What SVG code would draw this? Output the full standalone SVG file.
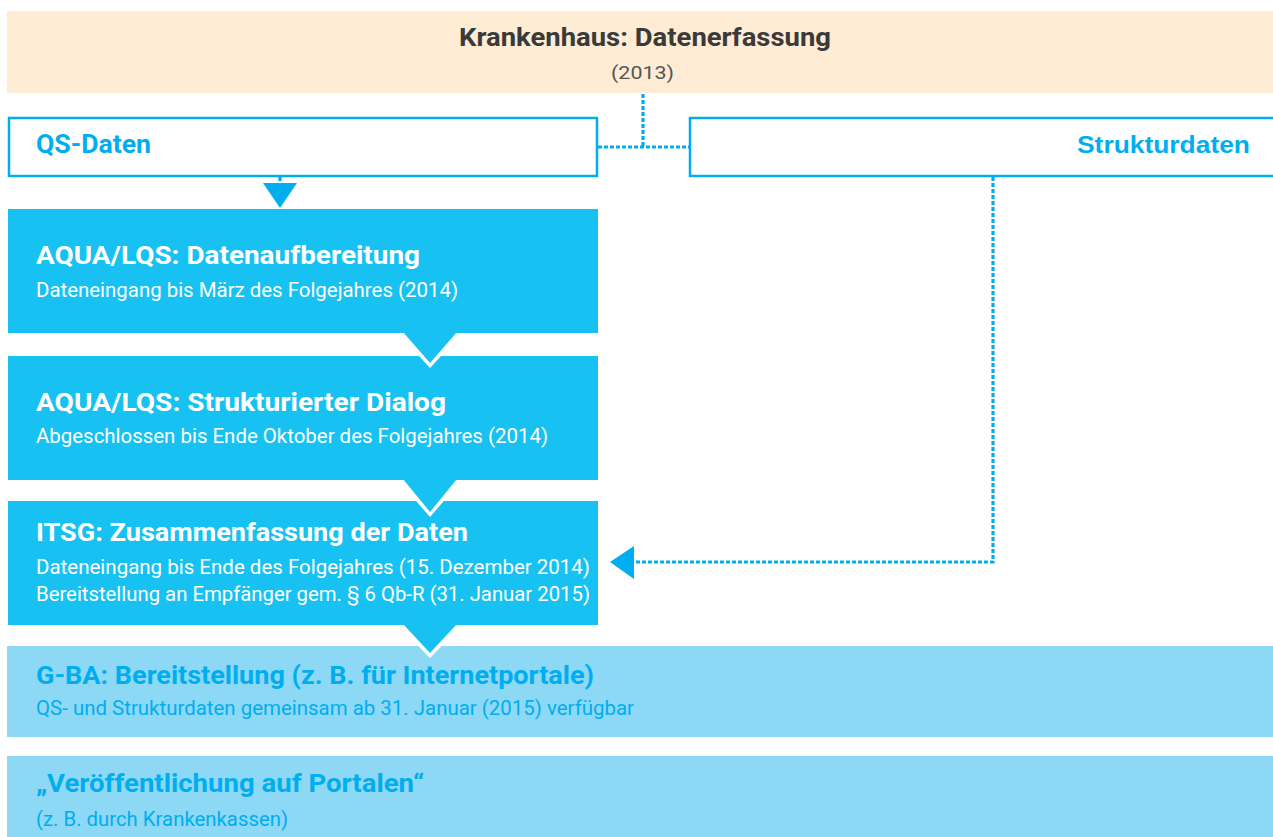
<svg xmlns="http://www.w3.org/2000/svg" width="1273" height="837" viewBox="0 0 1273 837">
<defs>
<style>
.t{font-family:Roboto,"Liberation Sans",sans-serif;}
.h{font-size:26.5px;font-weight:bold;}
.s{font-size:19.5px;}
.w{fill:#ffffff;}
.c{fill:#00AEEF;}
.box{fill:#17C2F2;}
.lbox{fill:#8DD8F5;}
.outline{fill:#ffffff;stroke:#00AEEF;stroke-width:2.5;}
.dot{fill:none;stroke:#00AEEF;stroke-width:3.2;stroke-dasharray:4 2;}
</style>
</defs>
<g id="krankenhaus">
<rect x="7" y="11" width="1266" height="82" fill="#FEECD4"/>
<text class="t" x="645" y="46" text-anchor="middle" font-size="26.5" font-weight="bold" fill="#3A3A3A" textLength="372" lengthAdjust="spacingAndGlyphs">Krankenhaus: Datenerfassung</text>
<text class="t" x="642.5" y="79" text-anchor="middle" font-size="19" fill="#555555" textLength="63" lengthAdjust="spacingAndGlyphs">(2013)</text>
</g>
<g id="connectors">
<path class="dot" d="M643 94 V147 M598 147 H689"/>
<path class="dot" d="M280 177 V184"/>
<polygon points="263,183 297,183 280,208" fill="#00AEEF"/>
<path class="dot" d="M993 177 V562 H634"/>
<polygon points="610,562 634,546 634,579" fill="#00AEEF"/>
</g>
<g id="qs-daten">
<rect class="outline" x="9" y="118" width="588" height="58"/>
<text class="t c" x="36" y="153" font-size="25" font-weight="bold" textLength="115" lengthAdjust="spacingAndGlyphs">QS-Daten</text>
</g>
<g id="strukturdaten">
<rect class="outline" x="690" y="118" width="590" height="58"/>
<text x="1077" y="153" font-family="'Liberation Sans',Arial,sans-serif" font-size="24" font-weight="bold" fill="#00AEEF" textLength="173" lengthAdjust="spacingAndGlyphs">Strukturdaten</text>
</g>
<g id="gba">
<rect class="lbox" x="7" y="646" width="1266" height="91"/>
<text class="t h c" x="36" y="684" textLength="558" lengthAdjust="spacingAndGlyphs">G-BA: Bereitstellung (z. B. für Internetportale)</text>
<text class="t s c" x="36" y="715" textLength="598" lengthAdjust="spacingAndGlyphs">QS- und Strukturdaten gemeinsam ab 31. Januar (2015) verfügbar</text>
</g>
<g id="veroeffentlichung">
<rect class="lbox" x="7" y="756" width="1266" height="81"/>
<text class="t h c" x="36" y="792" textLength="388" lengthAdjust="spacingAndGlyphs">„Veröffentlichung auf Portalen“</text>
<text class="t s c" x="36" y="826" textLength="252" lengthAdjust="spacingAndGlyphs">(z. B. durch Krankenkassen)</text>
</g>
<g id="itsg">
<rect class="box" x="8" y="501" width="590" height="124"/>
<text class="t h w" x="36" y="541" textLength="432" lengthAdjust="spacingAndGlyphs">ITSG: Zusammenfassung der Daten</text>
<text class="t s w" x="36" y="574" textLength="554" lengthAdjust="spacingAndGlyphs">Dateneingang bis Ende des Folgejahres (15. Dezember 2014)</text>
<text class="t s w" x="36" y="601" textLength="554" lengthAdjust="spacingAndGlyphs">Bereitstellung an Empfänger gem. § 6 Qb-R (31. Januar 2015)</text>
<polygon points="398,625 462,625 430,658" fill="#ffffff"/>
<polygon points="403,624 457,624 430,653" fill="#17C2F2"/>
</g>
<g id="strukturierter-dialog">
<rect class="box" x="8" y="356" width="590" height="124"/>
<text class="t h w" x="36" y="411" textLength="410" lengthAdjust="spacingAndGlyphs">AQUA/LQS: Strukturierter Dialog</text>
<text class="t s w" x="36" y="443" textLength="512" lengthAdjust="spacingAndGlyphs">Abgeschlossen bis Ende Oktober des Folgejahres (2014)</text>
<polygon points="398,480 462,480 430,517" fill="#ffffff"/>
<polygon points="403,479 457,479 430,512" fill="#17C2F2"/>
</g>
<g id="datenaufbereitung">
<rect class="box" x="8" y="209" width="590" height="124"/>
<text class="t h w" x="36" y="264" textLength="384" lengthAdjust="spacingAndGlyphs">AQUA/LQS: Datenaufbereitung</text>
<text class="t s w" x="36" y="297" textLength="422" lengthAdjust="spacingAndGlyphs">Dateneingang bis März des Folgejahres (2014)</text>
<polygon points="398,333 462,333 430,368" fill="#ffffff"/>
<polygon points="403,332 457,332 430,363" fill="#17C2F2"/>
</g>
</svg>
